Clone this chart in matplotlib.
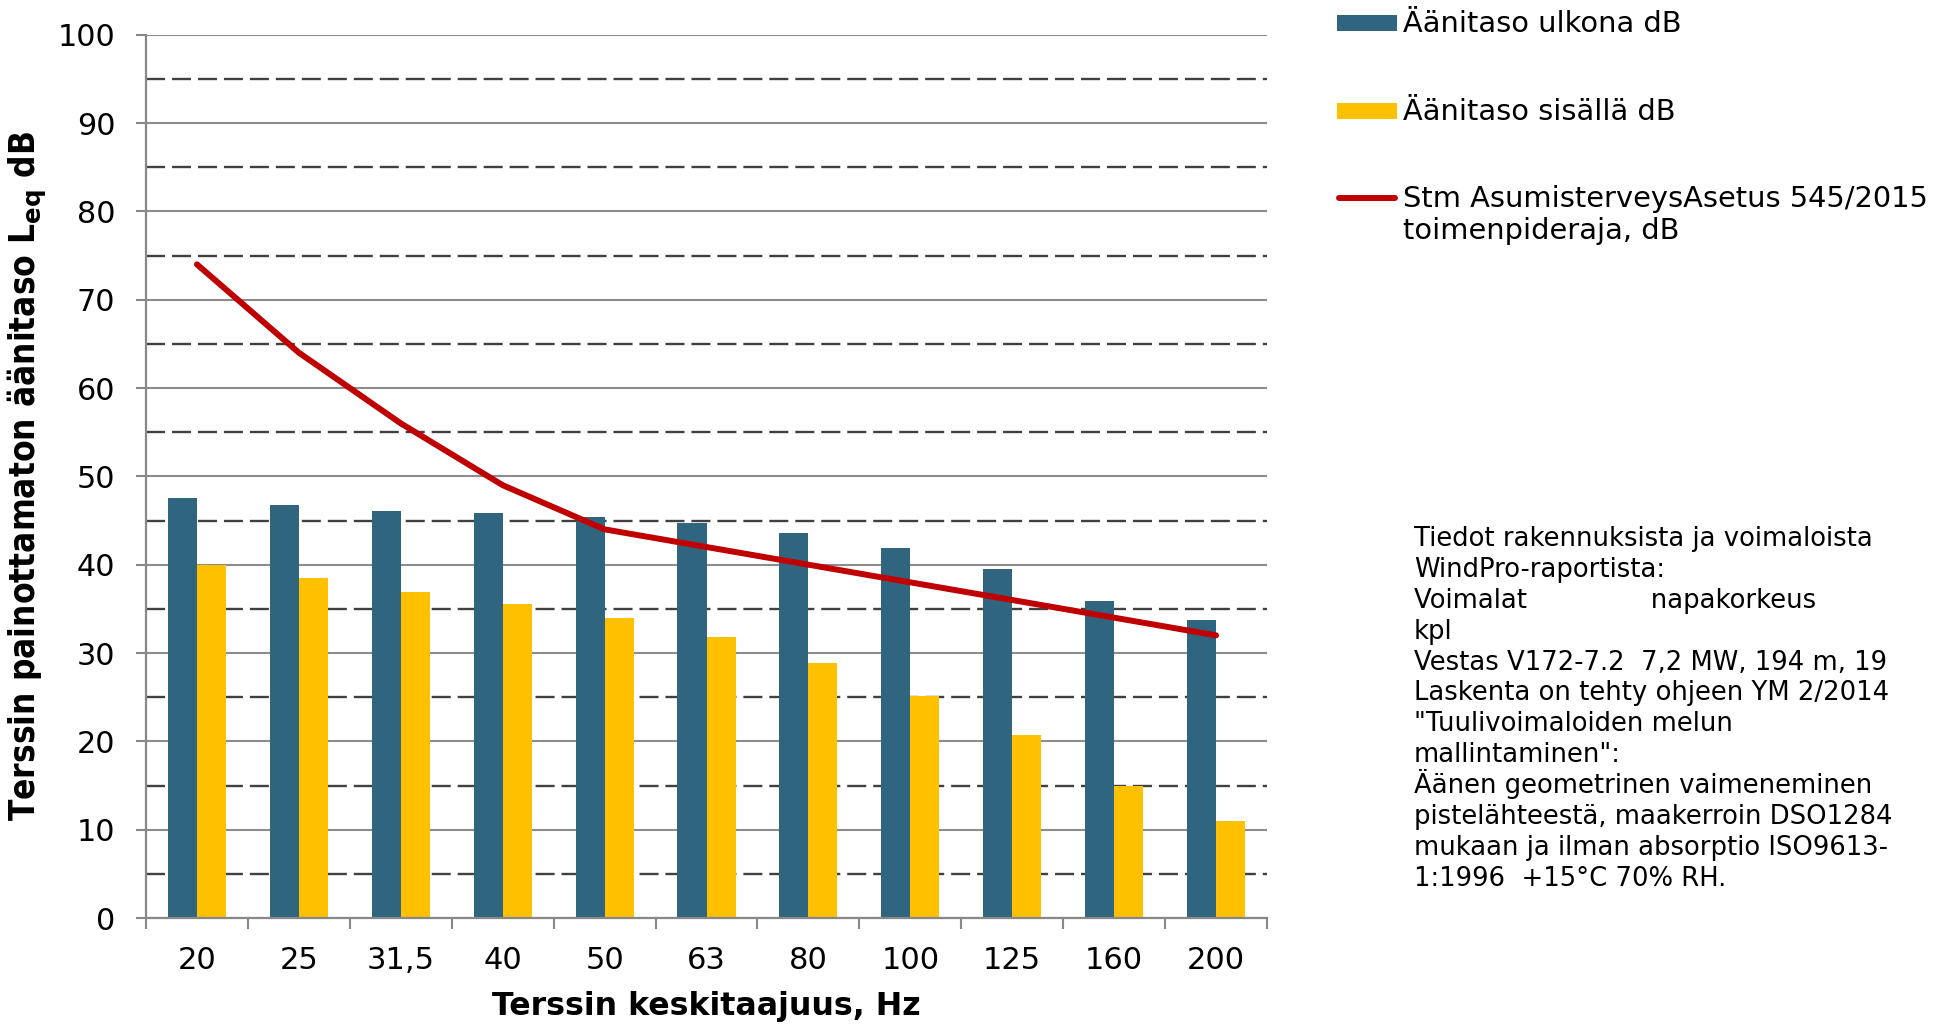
import numpy as np
import matplotlib
matplotlib.use("Agg")
import matplotlib.pyplot as plt
from matplotlib import font_manager as fm
from matplotlib.patches import Rectangle
from matplotlib.lines import Line2D
from matplotlib.ticker import FixedLocator

# --- data -------------------------------------------------------------
taajuudet = ["20", "25", "31,5", "40", "50", "63", "80", "100", "125", "160", "200"]
ulkona = [47.6, 46.7, 46.1, 45.8, 45.4, 44.7, 43.6, 41.9, 39.5, 35.9, 33.7]
sisalla = [40.0, 38.5, 36.9, 35.5, 34.0, 31.8, 28.9, 25.1, 20.7, 14.9, 11.0]
toimenpideraja = [74, 64, 56, 49, 44, 42, 40, 38, 36, 34, 32]

sarjat = ["Äänitaso ulkona dB", "Äänitaso sisällä dB",
          "Stm AsumisterveysAsetus 545/2015\ntoimenpideraja, dB"]

huomiot = [
    "Tiedot rakennuksista ja voimaloista",
    "WindPro-raportista:",
    "Voimalat" + " " * 15 + "napakorkeus",
    "kpl",
    "Vestas V172-7.2  7,2 MW, 194 m, 19",
    "Laskenta on tehty ohjeen YM 2/2014",
    "\"Tuulivoimaloiden melun",
    "mallintaminen\":",
    "Äänen geometrinen vaimeneminen",
    "pistelähteestä, maakerroin DSO1284",
    "mukaan ja ilman absorptio ISO9613-",
    "1:1996  +15°C 70% RH.",
]

# --- style --------------------------------------------------------------
BLUE = "#306580"
YELLOW = "#FFC000"
RED = "#C00000"
AXIS_GREY = "#888888"

plt.rcParams["font.family"] = ["DejaVu Sans"]

# condensed bold face for the y label, if the condensed DejaVu file is present
cond_prop = fm.FontProperties(family="DejaVu Sans", stretch="condensed", weight="bold")
try:
    cond_file = fm.findfont(cond_prop, fallback_to_default=False)
except Exception:
    cond_file = ""
if "Condensed" in cond_file:
    ylabel_kw = dict(fontsize=25.2, fontweight="bold", fontstretch="condensed")
else:
    ylabel_kw = dict(fontsize=22.7, fontweight="bold")

W, H = 1942, 1033
fig = plt.figure(figsize=(W / 100, H / 100), dpi=100)
ax = fig.add_axes([146 / W, 1 - 918 / H, (1267 - 146) / W, (918 - 34.7) / H])

x = np.arange(len(taajuudet))
w = 0.285
ax.bar(x - w / 2, ulkona, w, color=BLUE, zorder=2, label=sarjat[0])
ax.bar(x + w / 2, sisalla, w, color=YELLOW, zorder=2, label=sarjat[1])
ax.plot(x, toimenpideraja, color=RED, lw=4.3, solid_capstyle="round",
        solid_joinstyle="round", zorder=3, clip_on=False)

ax.set_xlim(-0.5, len(taajuudet) - 0.5)
ax.set_ylim(0, 100)

# y axis: solid grid at tens, dashed at fives
ax.set_yticks(np.arange(0, 101, 10))
ax.yaxis.set_minor_locator(FixedLocator(np.arange(5, 100, 10)))
ax.set_axisbelow(True)
ax.grid(axis="y", which="major", color="#8c8c8c", lw=1.5)
ax.grid(axis="y", which="minor", color="#404040", lw=1.7,
        linestyle=(0, (13.7 / 1.7, 5.0 / 1.7)))
ax.grid(axis="x", which="both", visible=False)

# x axis: ticks at the category boundaries, labels at the centres
ax.set_xticks(np.arange(-0.5, len(taajuudet), 1.0))
ax.set_xticklabels([])
ax.set_xticks(x, minor=True)
ax.set_xticklabels(taajuudet, minor=True, fontsize=22)

ax.tick_params(axis="x", which="major", direction="out", length=8, width=1.5,
               color=AXIS_GREY)
ax.tick_params(axis="x", which="minor", length=0, pad=20)
ax.tick_params(axis="y", which="major", direction="out", length=7.2, width=1.5,
               color=AXIS_GREY, labelsize=21.8, pad=15)
ax.tick_params(axis="y", which="minor", length=0)

for side in ("top", "right"):
    ax.spines[side].set_visible(False)
for side in ("left", "bottom"):
    ax.spines[side].set_color(AXIS_GREY)
    ax.spines[side].set_linewidth(1.6)

ax.set_xlabel("Terssin keskitaajuus, Hz", fontsize=22.8, fontweight="bold")
ax.xaxis.set_label_coords(0.5, (918 - 1007) / (918 - 34.7))
ax.xaxis.label.set_va("center")

ax.set_ylabel(r"Terssin painottamaton äänitaso L$_\mathbf{eq}$ dB", **ylabel_kw)
ax.yaxis.set_label_coords((27 - 146) / (1267 - 146), 0.5)
ax.yaxis.label.set_va("center")


# --- legend, drawn in figure pixels ------------------------------------
def fx(px):
    return px / W


def fy(py):
    return 1 - py / H


fig.add_artist(Rectangle((fx(1337), fy(31)), 60 / W, 16 / H,
                         transform=fig.transFigure, facecolor=BLUE, edgecolor="none"))
fig.add_artist(Rectangle((fx(1337), fy(119)), 60 / W, 16 / H,
                         transform=fig.transFigure, facecolor=YELLOW, edgecolor="none"))
fig.add_artist(Line2D([fx(1339), fx(1395)], [fy(198), fy(198)],
                      transform=fig.transFigure, color=RED, lw=4.3,
                      solid_capstyle="round"))

leg_font = 20.8
fig.text(fx(1403), fy(32), sarjat[0], fontsize=leg_font, va="baseline", ha="left")
fig.text(fx(1403), fy(120), sarjat[1], fontsize=leg_font, va="baseline", ha="left")
for k, line in enumerate(sarjat[2].split("\n")):
    fig.text(fx(1403), fy(207 + 32 * k), line, fontsize=leg_font,
             va="baseline", ha="left")

# --- notes ----------------------------------------------------------------
for k, line in enumerate(huomiot):
    fig.text(fx(1414), fy(546 + 30.9 * k), line, fontsize=18.6,
             va="baseline", ha="left")

fig.savefig("out.png", dpi=100, facecolor="white")
